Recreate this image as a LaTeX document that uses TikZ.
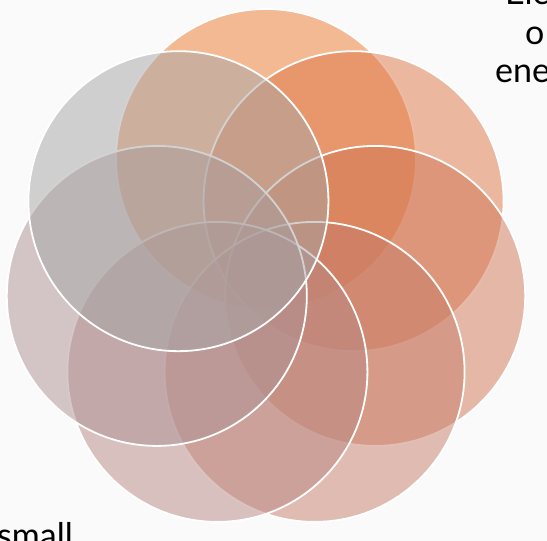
\documentclass[tikz,border=0pt]{standalone}
\usepackage{fontspec}
\setmainfont{Lato}
\usetikzlibrary{calc}
\definecolor{bgc}{RGB}{250,250,250}
\definecolor{c0}{RGB}{238,122,46}
\definecolor{c1}{RGB}{222,118,70}
\definecolor{c2}{RGB}{210,118,86}
\definecolor{c3}{RGB}{198,126,106}
\definecolor{c4}{RGB}{184,136,132}
\definecolor{c5}{RGB}{174,146,148}
\definecolor{c6}{RGB}{166,166,166}
\tikzset{
  petal/.style={circle, minimum size=300pt, inner sep=0pt, draw=white, line width=1.8pt, fill opacity=0.5, draw opacity=1},
  lbl/.style={anchor=base west, inner sep=0pt, font=\fontsize{34pt}{39pt}\selectfont, text=black}
}
\begin{document}
\begin{tikzpicture}[x=1pt,y=1pt]
\useasboundingbox (0,0) rectangle (547,541);
\fill[bgc] (0,0) rectangle (547,541);
\clip (0,0) rectangle (547,541);
\coordinate (ctr) at (266,270);
\node[petal, fill=c0] (p0) at ($(ctr)+(90:112)$) {};
\node[petal, fill=c1] (p1) at ($(ctr)+(38.57:112)$) {};
\node[petal, fill=c2] (p2) at ($(ctr)+(-12.86:112)$) {};
\node[petal, fill=c3] (p3) at ($(ctr)+(-64.29:112)$) {};
\node[petal, fill=c4] (p4) at ($(ctr)+(-115.71:112)$) {};
\node[petal, fill=c5] (p5) at ($(ctr)+(-167.14:112)$) {};
\node[petal, fill=c6] (p6) at ($(ctr)+(141.43:112)$) {};
\node[lbl] (t1) at (505,536) {Ele};
\node[lbl] (t2) at (525,496) {o};
\node[lbl] (t3) at (495,458) {ene};
\node[lbl] (t4) at (-3,-6.5) {small};
\end{tikzpicture}
\end{document}
